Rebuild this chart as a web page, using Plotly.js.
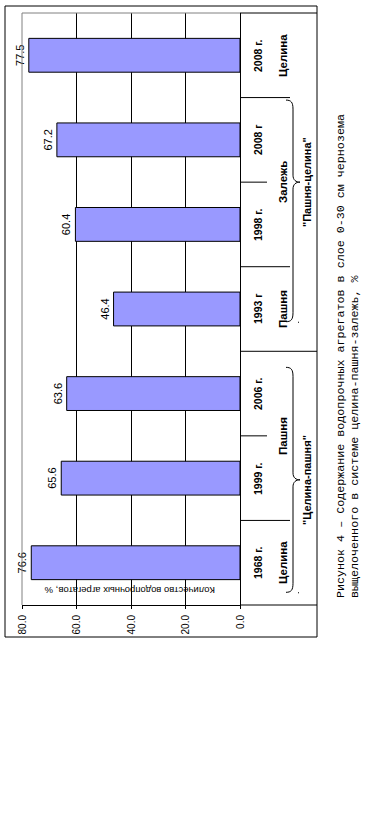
<!DOCTYPE html>
<html>
<head>
<meta charset="utf-8">
<script src="https://cdn.plot.ly/plotly-3.0.1.min.js"></script>
<style>
html,body{margin:0;padding:0;background:#fff;overflow:hidden;width:385px;height:823px;}
#wrap{position:absolute;left:0;top:0;width:823px;height:385px;transform-origin:0 0;transform:translate(0px,823px) rotate(-90deg);}
</style>
</head>
<body>
<div id="wrap"><div id="chart" style="width:823px;height:385px;"></div></div>
<script>
// ---- data ----
const years = ['1968 г.', '1999 г.', '2006 г.', '1993 г', '1998 г.', '2008 г', '2008 г.'];
const values = [76.6, 65.6, 63.6, 46.4, 60.4, 67.2, 77.5];
const landUse = ['Целина', 'Пашня', 'Пашня', 'Пашня', 'Залежь', 'Залежь', 'Целина'];
const outerGroup = [1, 1, 1, 2, 2, 2, 2];
const systemLabels = ['"Целина-пашня"', '"Пашня-целина"'];
const valueTicks = [0, 20, 40, 60, 80];
const axisTitle = 'Количество водопрочных агрегатов, %';
const captionLines = [
  'Рисунок 4 – Содержание водопрочных агрегатов в слое 0-30 см чернозема',
  'выщелоченного в системе целина-пашня-залежь, %'
];

// ---- geometry (unrotated frame, rotated by CSS) ----
const W = 823, H = 385, L = 218, R = 13, T = 22, B = 145;
const PW = W - L - R, PH = H - T - B;
const px = u => (u - L) / PW;
const py = v => (H - B - v) / PH;
const n = years.length;
const step = PW / n;
const catU = i => L + (i + 0.5) * step;
const catX = i => (i + 0.5) / n;
const SANS = 'Liberation Sans, Arial, sans-serif';

// decoration layout (braces under system labels)
const braces = [
  {from: -0.35, tip: 0.98, to: 2.31, label: 0},
  {from: 2.85, tip: 4.5, to: 5.47, label: 1}
];

const shapes = [];
const annotations = [];

// outer frame
shapes.push({type: 'rect', xref: 'paper', yref: 'paper', x0: px(186), x1: px(817), y0: py(317), y1: py(5),
  line: {color: '#000', width: 1}, fillcolor: 'rgba(0,0,0,0)'});
// gray plot border (top and right)
shapes.push({type: 'line', xref: 'paper', yref: 'paper', x0: 0, x1: 1, y0: 1, y1: 1, line: {color: '#808080', width: 1}});
shapes.push({type: 'line', xref: 'paper', yref: 'paper', x0: 1, x1: 1, y0: 0, y1: 1, line: {color: '#808080', width: 1}});

// category table lines
for (let k = 0; k <= n; k++) {
  let vEnd;
  if (k === 0 || k === n) vEnd = 317;
  else if (outerGroup[k - 1] !== outerGroup[k]) vEnd = 317;
  else if (landUse[k - 1] !== landUse[k]) vEnd = 290;
  else vEnd = 267;
  shapes.push({type: 'line', xref: 'paper', yref: 'paper', x0: k / n, x1: k / n, y0: py(240), y1: py(vEnd),
    line: {color: '#000', width: 1}});
}

// year labels
years.forEach((y, i) => {
  annotations.push({x: catX(i), xref: 'paper', y: py(258), yref: 'paper', text: y, showarrow: false,
    xanchor: 'center', yanchor: 'middle', font: {family: SANS, size: 10.5, color: '#000', weight: 'bold'}});
});

// land-use group labels (runs of equal labels inside the same outer group)
let start = 0;
for (let i = 1; i <= n; i++) {
  if (i === n || landUse[i] !== landUse[start] || outerGroup[i] !== outerGroup[start]) {
    const c = (start + i - 1) / 2;
    annotations.push({x: catX(c), xref: 'paper', y: py(283), yref: 'paper', text: landUse[start], showarrow: false,
      xanchor: 'center', yanchor: 'middle', font: {family: SANS, size: 11.5, color: '#000', weight: 'bold'}});
    start = i;
  }
}

// braces + system labels
function P(u, v) { return px(u).toFixed(5) + ',' + py(v).toFixed(5); }
braces.forEach(b => {
  const ua = catU(b.from), ut = catU(b.tip), ub = catU(b.to);
  const path = 'M' + P(ua, 286) + ' C' + P(ua, 291) + ' ' + P(ua + 2, 293) + ' ' + P(ua + 9, 293) +
    ' L' + P(ut - 7, 293) + ' C' + P(ut - 2, 293) + ' ' + P(ut, 296) + ' ' + P(ut, 300) +
    ' C' + P(ut, 296) + ' ' + P(ut + 2, 293) + ' ' + P(ut + 7, 293) +
    ' L' + P(ub - 9, 293) + ' C' + P(ub - 2, 293) + ' ' + P(ub, 291) + ' ' + P(ub, 286);
  shapes.push({type: 'path', xref: 'paper', yref: 'paper', path: path, line: {color: '#000', width: 1}});
  annotations.push({x: catX(b.tip), xref: 'paper', y: py(307), yref: 'paper', text: systemLabels[b.label], showarrow: false,
    xanchor: 'center', yanchor: 'middle', font: {family: SANS, size: 11, color: '#000', weight: 'bold'}});
  // small dot after the brace end
  const ud = catU(b.from) - 1;
  shapes.push({type: 'rect', xref: 'paper', yref: 'paper', x0: px(ud), x1: px(ud + 1), y0: py(299), y1: py(298),
    line: {width: 0}, fillcolor: '#000'});
});

// axis title inside plot
annotations.push({x: px(232), xref: 'paper', y: py(130), yref: 'paper', text: axisTitle, textangle: -90, showarrow: false,
  xanchor: 'center', yanchor: 'middle', font: {family: SANS, size: 9.5, color: '#000'}});

// caption
captionLines.forEach((t, i) => {
  annotations.push({x: px(223), xref: 'paper', y: py(341 + i * 14), yref: 'paper', text: t, showarrow: false,
    xanchor: 'left', yanchor: 'middle', font: {family: 'Liberation Mono, monospace', size: 11.7, color: '#000'}});
});

const trace = {
  type: 'bar', x: years, y: values, width: 0.4,
  marker: {color: '#9999FF', line: {color: '#000', width: 1}},
  text: values.map(v => v.toFixed(1)), textposition: 'outside', cliponaxis: false,
  textfont: {family: SANS, size: 11, color: '#000'}, hoverinfo: 'none'
};

const layout = {
  width: W, height: H, margin: {l: L, r: R, t: T, b: B, pad: 0},
  paper_bgcolor: '#fff', plot_bgcolor: '#fff', showlegend: false,
  xaxis: {type: 'category', range: [-0.5, n - 0.5], showticklabels: false, ticks: '', showgrid: false,
    showline: true, linecolor: '#000', linewidth: 1, zeroline: false, fixedrange: true},
  yaxis: {range: [0, 80], tickvals: valueTicks, ticktext: valueTicks.map(v => v.toFixed(1)),
    showgrid: true, gridcolor: '#000', gridwidth: 1, zeroline: false,
    showline: true, linecolor: '#000', linewidth: 1, ticks: 'outside', ticklen: 3, tickcolor: '#000',
    ticklabelstandoff: 4,
    tickfont: {family: SANS, size: 10, color: '#000'}, fixedrange: true},
  shapes: shapes, annotations: annotations
};

Plotly.newPlot('chart', [trace], layout, {staticPlot: true, displayModeBar: false});
</script>
</body>
</html>
